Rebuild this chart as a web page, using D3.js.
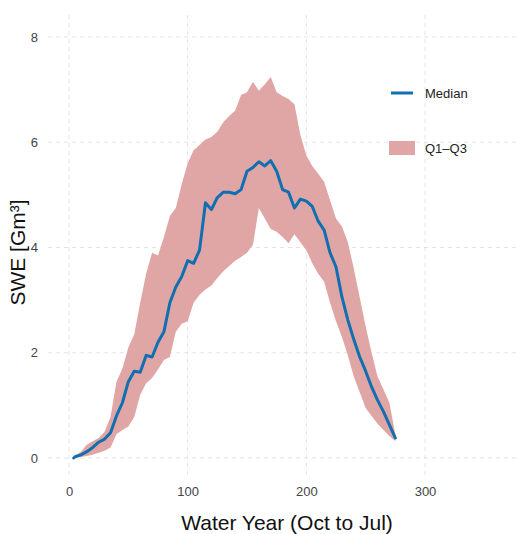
<!DOCTYPE html>
<html>
<head>
<meta charset="utf-8">
<script src="https://cdn.jsdelivr.net/npm/d3@7"></script>
<style>
  html, body { margin: 0; padding: 0; background: #fff; }
  svg { display: block; font-family: "Liberation Sans", Arial, sans-serif; }
</style>
</head>
<body>
<svg id="chart" width="519" height="534"></svg>
<script>
// ---- data ----
const days = [4, 5, 10, 15, 20, 25, 30, 35, 40, 45, 50, 55, 60, 65, 70, 75, 80, 85, 90, 95,
  100, 105, 110, 115, 120, 125, 130, 135, 140, 145, 150, 155, 160, 165, 170, 175, 180, 185, 190, 195,
  200, 205, 210, 215, 220, 225, 230, 235, 240, 245, 250, 255, 260, 265, 270, 275];

const median = [0, 0.02, 0.06, 0.12, 0.2, 0.3, 0.36, 0.48, 0.8, 1.05, 1.45, 1.65, 1.63, 1.95, 1.92, 2.2, 2.4, 2.95, 3.25, 3.45,
  3.75, 3.7, 3.95, 4.85, 4.72, 4.95, 5.05, 5.05, 5.02, 5.1, 5.45, 5.52, 5.63, 5.55, 5.65, 5.45, 5.1, 5.05, 4.75, 4.92,
  4.88, 4.78, 4.5, 4.33, 3.9, 3.63, 3.06, 2.62, 2.25, 1.92, 1.65, 1.35, 1.1, 0.88, 0.63, 0.38];

const q3 = [0.03, 0.05, 0.12, 0.25, 0.32, 0.38, 0.5, 0.78, 1.45, 1.7, 2.1, 2.35, 2.95, 3.5, 3.9, 3.85, 4.2, 4.6, 4.75, 5.2,
  5.6, 5.85, 5.95, 6.05, 6.1, 6.2, 6.38, 6.5, 6.6, 6.9, 6.95, 7.15, 6.98, 7.1, 7.24, 6.95, 6.88, 6.82, 6.72, 6.14,
  5.75, 5.55, 5.4, 5.25, 4.9, 4.55, 4.4, 4.1, 3.6, 3.05, 2.5, 2.0, 1.55, 1.3, 1.05, 0.45];

const q1 = [0, 0, 0.02, 0.04, 0.06, 0.1, 0.14, 0.2, 0.45, 0.53, 0.6, 0.78, 1.2, 1.42, 1.52, 1.68, 1.86, 1.92, 2.4, 2.55,
  2.6, 2.95, 3.1, 3.2, 3.28, 3.42, 3.55, 3.65, 3.75, 3.82, 3.9, 4.05, 4.75, 4.55, 4.35, 4.3, 4.2, 4.08, 4.25, 4.1,
  3.95, 3.7, 3.5, 3.35, 2.95, 2.6, 2.3, 1.95, 1.55, 1.25, 0.95, 0.8, 0.65, 0.53, 0.42, 0.32];

const xTicks = [0, 100, 200, 300];
const yTicks = [0, 2, 4, 6, 8];
const legendLabels = ["Median", "Q1–Q3"];

// ---- layout ----
const svg = d3.select("#chart");
const panel = { left: 48, right: 519, top: 15, bottom: 478 };
const x = d3.scaleLinear().domain([0, 300]).range([69, 425]);
const y = d3.scaleLinear().domain([0, 8]).range([458, 37]);

const lineColor = "#0f6fb1";
const bandColor = "#e0a6a5";
const gridColor = "#e3e3e3";

// grid
const grid = svg.append("g");
grid.selectAll("line.v").data(xTicks).join("line")
  .attr("x1", d => x(d)).attr("x2", d => x(d))
  .attr("y1", panel.top).attr("y2", panel.bottom)
  .attr("stroke", gridColor).attr("stroke-width", 1).attr("stroke-dasharray", "4,4");
grid.selectAll("line.h").data(yTicks).join("line")
  .attr("x1", panel.left).attr("x2", panel.right)
  .attr("y1", d => y(d)).attr("y2", d => y(d))
  .attr("stroke", gridColor).attr("stroke-width", 1).attr("stroke-dasharray", "4,4");

// band
const rows = days.map((d, i) => ({ d, m: median[i], lo: q1[i], hi: q3[i] }));
svg.append("path").datum(rows)
  .attr("fill", bandColor)
  .attr("d", d3.area().x(r => x(r.d)).y0(r => y(r.lo)).y1(r => y(r.hi)));

// median line
svg.append("path").datum(rows)
  .attr("fill", "none").attr("stroke", lineColor).attr("stroke-width", 3)
  .attr("stroke-linejoin", "round").attr("stroke-linecap", "round")
  .attr("d", d3.line().x(r => x(r.d)).y(r => y(r.m)));

// axes (no lines, only labels)
const xAxis = d3.axisBottom(x).tickValues(xTicks).tickSize(0).tickPadding(0);
const gx = svg.append("g").attr("transform", `translate(0,${panel.bottom + 9})`).call(xAxis);
gx.select(".domain").remove();
gx.selectAll("text").attr("font-size", 13).attr("fill", "#444").attr("font-family", "Liberation Sans, Arial, sans-serif");

const yAxis = d3.axisLeft(y).tickValues(yTicks).tickSize(0).tickPadding(0);
const gy = svg.append("g").attr("transform", `translate(${panel.left - 10},0)`).call(yAxis);
gy.select(".domain").remove();
gy.selectAll("text").attr("font-size", 13).attr("fill", "#444").attr("font-family", "Liberation Sans, Arial, sans-serif");

// axis titles
svg.append("text")
  .attr("x", 287).attr("y", 530)
  .attr("text-anchor", "middle").attr("font-size", 21).attr("fill", "#111")
  .text("Water Year (Oct to Jul)");
svg.append("text")
  .attr("transform", `translate(25,${(panel.top + panel.bottom) / 2 + 6}) rotate(-90)`)
  .attr("text-anchor", "middle").attr("font-size", 21).attr("fill", "#111")
  .text("SWE [Gm³]");

// legend
const lg = svg.append("g");
lg.append("line").attr("x1", 391).attr("x2", 413).attr("y1", 93).attr("y2", 93)
  .attr("stroke", lineColor).attr("stroke-width", 3);
lg.append("rect").attr("x", 389).attr("y", 141).attr("width", 26).attr("height", 14)
  .attr("fill", bandColor);
lg.selectAll("text").data(legendLabels).join("text")
  .attr("x", 425).attr("y", (d, i) => i === 0 ? 98 : 153)
  .attr("font-size", 13).attr("fill", "#222")
  .text(d => d);
</script>
</body>
</html>
